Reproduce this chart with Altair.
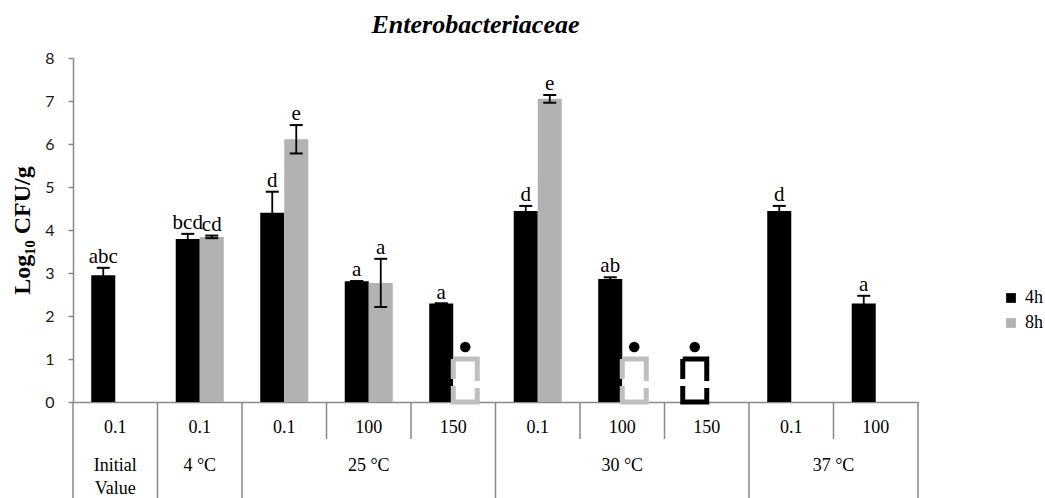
import altair as alt
import pandas as pd

# Storage condition (second row of the x table) and inoculum level (first row)
groups = ["Initial\nValue", "4 °C", "25 °C", "25 °C", "25 °C",
          "30 °C", "30 °C", "30 °C", "37 °C", "37 °C"]
levels = ["0.1", "0.1", "0.1", "100", "150", "0.1", "100", "150", "0.1", "100"]

# Mean counts (log10 CFU/g) and standard deviations after 4 h and 8 h
mean_4h = [2.95, 3.79, 4.40, 2.81, 2.29, 4.44, 2.86, None, 4.44, 2.29]
sd_4h = [0.17, 0.12, 0.49, 0.0, 0.0, 0.12, 0.04, None, 0.12, 0.18]
letters_4h = ["abc", "bcd", "d", "a", "a", "d", "ab", "", "d", "a"]

mean_8h = [None, 3.84, 6.11, 2.77, None, 7.05, None, None, None, None]
sd_8h = [None, 0.03, 0.33, 0.56, None, 0.09, None, None, None, None]
letters_8h = ["", "cd", "e", "a", "", "e", "", "", "", ""]

# Samples below the detection limit
below_4h = [False, False, False, False, False, False, False, True, False, False]
below_8h = [False, False, False, False, True, False, True, False, False, False]
detection_limit = 1.0

times = ["4h", "8h"]
cats = [f"{g} {l}" for g, l in zip(groups, levels)]

bar_rows, bdl_rows = [], []
for t, means, sds, letters, below in [
    ("4h", mean_4h, sd_4h, letters_4h, below_4h),
    ("8h", mean_8h, sd_8h, letters_8h, below_8h),
]:
    for i, c in enumerate(cats):
        if means[i] is not None:
            bar_rows.append({"cat": c, "time": t, "mean": means[i],
                             "lo": means[i] - sds[i], "hi": means[i] + sds[i],
                             "letter": letters[i]})
        if below[i]:
            bdl_rows.append({"cat": c, "time": t, "limit": detection_limit})

bars_df = pd.DataFrame(bar_rows)
bdl_df = pd.DataFrame(bdl_rows)

serif = "Liberation Serif"
grid_gray = "#898989"

x_enc = alt.X("cat:N", sort=cats,
              scale=alt.Scale(domain=cats, paddingInner=0, paddingOuter=0),
              axis=alt.Axis(labels=False, ticks=False, title=None,
                            domainColor=grid_gray, domainWidth=1.5))
off_enc = alt.XOffset("time:N", sort=times,
                      scale=alt.Scale(domain=times, paddingInner=0, paddingOuter=0.76))
y_scale = alt.Scale(domain=[0, 8], nice=False)

bars = alt.Chart(bars_df).mark_bar().encode(
    x=x_enc,
    xOffset=off_enc,
    y=alt.Y("mean:Q", scale=y_scale,
            axis=alt.Axis(values=list(range(9)), grid=False, title="Log₁₀ CFU/g",
                          titleFont=serif, titleFontSize=24, titleFontWeight="bold",
                          titleColor="black", titleX=-51, titleY=172,
                          titleAngle=-90, titleAlign="center", titleBaseline="middle",
                          labelFont="Lato", labelFontSize=16, labelColor="#1a1a1a",
                          labelPadding=14, domainColor=grid_gray, domainWidth=1.5,
                          tickColor=grid_gray, tickSize=5, tickWidth=1.5)),
    color=alt.Color("time:N", sort=times,
                    scale=alt.Scale(domain=times, range=["#000000", "#B2B2B2"]),
                    legend=alt.Legend(orient="none", legendX=929, legendY=231,
                                      padding=0, title=None, symbolType="square",
                                      symbolSize=95, symbolStrokeWidth=0,
                                      labelFont=serif, labelFontSize=18,
                                      labelColor="black", labelOffset=5,
                                      rowPadding=7)),
)

err_rule = alt.Chart(bars_df).mark_rule(color="black", strokeWidth=1.8).encode(
    x=x_enc, xOffset=off_enc, y=alt.Y("lo:Q", scale=y_scale), y2="hi:Q")
err_hi = alt.Chart(bars_df).mark_tick(color="black", size=13, thickness=2,
                                      opacity=1).encode(
    x=x_enc, xOffset=off_enc, y=alt.Y("hi:Q", scale=y_scale))
err_lo = alt.Chart(bars_df).mark_tick(color="black", size=13, thickness=2,
                                      opacity=1).encode(
    x=x_enc, xOffset=off_enc, y=alt.Y("lo:Q", scale=y_scale))

letters = alt.Chart(bars_df).mark_text(
    font=serif, fontSize=21, baseline="alphabetic", dy=-5, color="black"
).encode(x=x_enc, xOffset=off_enc, y=alt.Y("hi:Q", scale=y_scale), text="letter:N")

# Dashed outline boxes for counts below the detection limit
bdl_box = alt.Chart(bdl_df).mark_bar(
    fill="white", strokeWidth=5, strokeDash=[46, 7, 54, 7, 20]
).encode(
    x=x_enc, xOffset=off_enc,
    y=alt.Y("limit:Q", scale=y_scale),
    stroke=alt.Stroke("time:N", scale=alt.Scale(domain=times,
                                                range=["#000000", "#BFBFBF"]),
                      legend=None),
)
bdl_dot = alt.Chart(bdl_df).mark_point(
    filled=True, shape="circle", size=110, color="black", opacity=1, yOffset=-12
).encode(x=x_enc, xOffset=off_enc, y=alt.Y("limit:Q", scale=y_scale))

data_layer = alt.layer(bars, err_rule, err_hi, err_lo, bdl_box, bdl_dot, letters)

# Category table below the x axis
bounds = []
for b in range(len(cats) + 1):
    full = b == 0 or b == len(cats) or groups[b] != groups[b - 1]
    bounds.append({"b": b, "full": full})
bounds_df = pd.DataFrame(bounds)

tx = alt.Scale(domain=[0, len(cats)], nice=False, zero=False)

full_lines = alt.Chart(bounds_df[bounds_df["full"]]).mark_rule(
    color=grid_gray, strokeWidth=1.5
).encode(x=alt.X("b:Q", scale=tx, axis=None), y=alt.value(344), y2=alt.value(440))
short_lines = alt.Chart(bounds_df[~bounds_df["full"]]).mark_rule(
    color=grid_gray, strokeWidth=1.5
).encode(x=alt.X("b:Q", scale=tx, axis=None), y=alt.value(344), y2=alt.value(381))

level_df = pd.DataFrame({"pos": [i + 0.5 for i in range(len(cats))], "label": levels})
level_text = alt.Chart(level_df).mark_text(
    font=serif, fontSize=18, baseline="middle", color="black"
).encode(x=alt.X("pos:Q", scale=tx, axis=None), y=alt.value(370), text="label:N")

group_rows = []
for g in dict.fromkeys(groups):
    idx = [i for i, gg in enumerate(groups) if gg == g]
    group_rows.append({"pos": (min(idx) + max(idx)) / 2 + 0.5, "label": g})
group_df = pd.DataFrame(group_rows)
group_text = alt.Chart(group_df).mark_text(
    font=serif, fontSize=18, baseline="top", color="black", lineBreak="\n",
    lineHeight=23
).encode(x=alt.X("pos:Q", scale=tx, axis=None), y=alt.value(399), text="label:N")

table_layer = alt.layer(full_lines, short_lines, level_text, group_text)

chart = alt.layer(data_layer, table_layer).resolve_scale(x="independent").properties(
    width=845, height=344,
    title=alt.TitleParams("Enterobacteriaceae", font=serif, fontSize=26,
                          fontStyle="italic", fontWeight="bold", color="black",
                          anchor="middle", dx=-20, offset=12),
    padding={"left": 73, "top": 58, "right": 127, "bottom": 96},
    autosize=alt.AutoSizeParams(type="none"),
).configure_view(stroke=None)

chart.save("out.html", embed_options={"renderer": "svg", "actions": False})
